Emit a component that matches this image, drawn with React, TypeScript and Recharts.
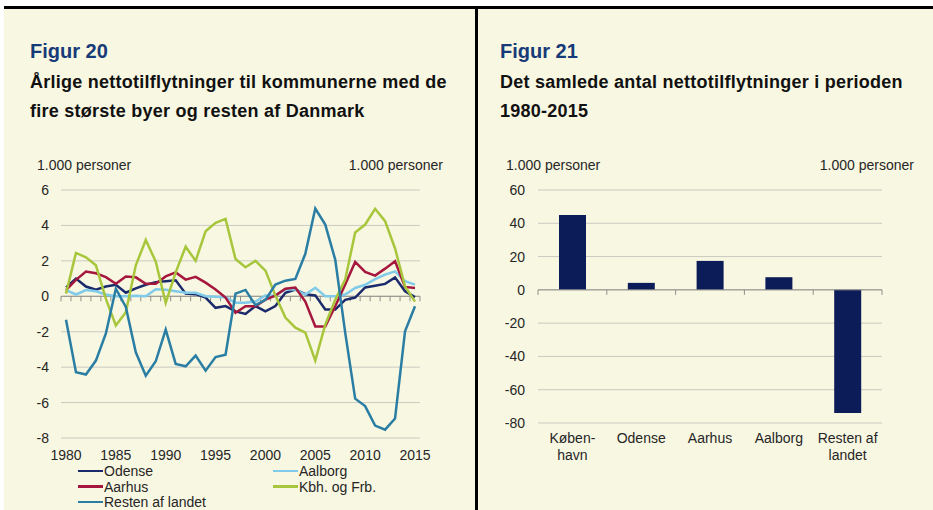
import React from 'react';
import { LineChart, Line, BarChart, Bar, XAxis, YAxis, CartesianGrid, ReferenceLine } from 'recharts';

// Figur 20: yearly net in-migration, 1.000 persons
const years = [
  1980, 1981, 1982, 1983, 1984, 1985, 1986, 1987, 1988, 1989,
  1990, 1991, 1992, 1993, 1994, 1995, 1996, 1997, 1998, 1999,
  2000, 2001, 2002, 2003, 2004, 2005, 2006, 2007, 2008, 2009,
  2010, 2011, 2012, 2013, 2014, 2015,
];
const odense = [
  0.5, 1.0, 0.55, 0.37, 0.55, 0.65, 0.2, 0.45, 0.65, 0.8,
  0.85, 0.9, 0.15, 0.12, -0.07, -0.65, -0.55, -0.85, -1.0, -0.55,
  -0.85, -0.55, 0.2, 0.38, 0.12, 0.05, -0.75, -0.75, -0.2, -0.07,
  0.5, 0.6, 0.7, 1.07, 0.28, -0.05,
];
const aalborg = [
  0.35, 0.1, 0.35, 0.28, 0.1, 0.0, 0.0, 0.03, 0.0, 0.4,
  0.37, 0.28, 0.2, 0.2, 0.0, -0.02, -0.05, -0.37, -0.37, -0.3,
  0.05, 0.05, 0.4, 0.38, 0.1, 0.48, 0.0, 0.0, 0.1, 0.47,
  0.65, 0.97, 1.22, 1.41, 0.85, 0.66,
];
const aarhus = [
  0.35, 0.93, 1.4, 1.3, 1.08, 0.71, 1.12, 1.07, 0.71, 0.71,
  1.12, 1.35, 0.94, 1.1, 0.77, 0.38, -0.07, -0.93, -0.56, -0.56,
  -0.19, 0.04, 0.43, 0.49, -0.3, -1.7, -1.7, -0.56, 0.66, 1.94,
  1.38, 1.17, 1.56, 1.98, 0.53, 0.47,
];
const kbhFrb = [
  0.15, 2.45, 2.2, 1.75, -0.15, -1.65, -0.9, 1.75, 3.18, 1.96,
  -0.37, 1.35, 2.8, 2.0, 3.67, 4.15, 4.37, 2.1, 1.64, 2.0,
  1.45, 0.05, -1.2, -1.77, -2.05, -3.63, -1.6, -0.2, 0.94, 3.6,
  4.05, 4.94, 4.24, 2.7, 0.56, -0.3,
];
const resten = [
  -1.32, -4.29, -4.42, -3.63, -2.1, 0.43, -0.6, -3.16, -4.48, -3.67,
  -1.88, -3.82, -3.95, -3.35, -4.2, -3.43, -3.3, 0.15, 0.36, -0.5,
  -0.2, 0.66, 0.88, 0.98, 2.4, 4.95, 4.05, 2.07, -2.05, -5.78,
  -6.2, -7.3, -7.53, -6.9, -1.98, -0.56,
];
const lineTicks = [-8, -6, -4, -2, 0, 2, 4, 6];

// Figur 21: total net in-migration 1980-2015, 1.000 persons
const barLabels = ['Køben-\nhavn', 'Odense', 'Aarhus', 'Aalborg', 'Resten af\nlandet'];
const barValues = [45, 4.2, 17.4, 7.6, -74];
const barTicks = [-80, -60, -40, -20, 0, 20, 40, 60];

const series = [
  { key: 'odense', name: 'Odense', color: '#1b2a6b', values: odense },
  { key: 'aalborg', name: 'Aalborg', color: '#7fcbe9', values: aalborg },
  { key: 'aarhus', name: 'Aarhus', color: '#a6173e', values: aarhus },
  { key: 'kbhFrb', name: 'Kbh. og Frb.', color: '#a8c63c', values: kbhFrb },
  { key: 'resten', name: 'Resten af landet', color: '#2a7ea4', values: resten },
];

const lineData = years.map((year, i) => {
  const row: any = { year };
  series.forEach(s => { row[s.key] = s.values[i]; });
  return row;
});
const barData = barLabels.map((label, i) => ({ label, value: barValues[i] }));

const FONT = '"Liberation Sans", Arial, sans-serif';
const BG = '#f8f7e2';
const tickStyle = { fill: '#262626', fontSize: 14, fontFamily: FONT };

// zero line with small tick marks at every category boundary
const zeroAxis = (count: number) => (props: any) => {
  const { x1, x2, y1 } = props;
  const step = (x2 - x1) / count;
  const marks = [];
  for (let i = 0; i <= count; i++) {
    const x = x1 + i * step;
    marks.push(<line key={i} x1={x} y1={y1} x2={x} y2={y1 + 5} stroke="#8f8f8a" strokeWidth={1} />);
  }
  return (
    <g>
      <line x1={x1} y1={y1} x2={x2} y2={y1} stroke="#8f8f8a" strokeWidth={1} />
      {marks}
    </g>
  );
};

const CategoryTick = (props: any) => {
  const { x, y, payload } = props;
  const parts = String(payload.value).split('\n');
  return (
    <text x={x} y={y} textAnchor="middle" fill="#262626" fontSize={14} fontFamily={FONT}>
      {parts.map((p, i) => (
        <tspan key={i} x={x} dy={i === 0 ? '0.71em' : 17}>{p}</tspan>
      ))}
    </text>
  );
};

const abs = (left: number, top: number, extra: any = {}) => ({ position: 'absolute' as const, left, top, ...extra });

export default function App() {
  return (
    <div style={abs(0, 0, { width: 933, height: 510, background: '#fff', overflow: 'hidden', fontFamily: FONT })}>
      <div style={abs(4, 9, { width: 929, height: 501, background: BG })} />
      <div style={abs(4, 6, { width: 929, height: 3, background: '#000' })} />
      <div style={abs(475, 6, { width: 3, height: 504, background: '#000' })} />

      {/* titles */}
      <div style={abs(30, 41, { fontSize: 20, lineHeight: '20px', fontWeight: 700, color: '#173a78' })}>Figur 20</div>
      <div style={abs(30, 68, { fontSize: 18, lineHeight: '29px', fontWeight: 700, color: '#111', whiteSpace: 'nowrap', letterSpacing: 0.25 })}>
        Årlige nettotilflytninger til kommunerne med de<br />fire største byer og resten af Danmark
      </div>
      <div style={abs(500, 41, { fontSize: 20, lineHeight: '20px', fontWeight: 700, color: '#173a78' })}>Figur 21</div>
      <div style={abs(500, 68, { fontSize: 18, lineHeight: '29px', fontWeight: 700, color: '#111', whiteSpace: 'nowrap', letterSpacing: 0.25 })}>
        Det samlede antal nettotilflytninger i perioden<br />1980-2015
      </div>

      {/* unit labels */}
      <div style={abs(37, 157, { fontSize: 14, lineHeight: '16px', color: '#262626' })}>1.000 personer</div>
      <div style={abs(343, 157, { width: 100, textAlign: 'right', fontSize: 14, lineHeight: '16px', color: '#262626', whiteSpace: 'nowrap' })}>1.000 personer</div>
      <div style={abs(506, 157, { fontSize: 14, lineHeight: '16px', color: '#262626' })}>1.000 personer</div>
      <div style={abs(814, 157, { width: 100, textAlign: 'right', fontSize: 14, lineHeight: '16px', color: '#262626', whiteSpace: 'nowrap' })}>1.000 personer</div>

      <div style={abs(0, 150)}>
        <LineChart width={476} height={318} data={lineData} margin={{ top: 40, right: 0, bottom: 0, left: 0 }}>
          <CartesianGrid vertical={false} stroke="#cacac2" />
          <XAxis dataKey="year" interval={4} axisLine={false} tickLine={false} tickMargin={6} height={30}
            padding={{ left: 5, right: 5 }} tick={tickStyle} />
          <YAxis domain={[-8, 6]} ticks={lineTicks} width={61} axisLine={false} tickLine={false} tickMargin={6} tick={tickStyle} />
          <YAxis yAxisId="right" orientation="right" domain={[-8, 6]} ticks={lineTicks} width={56}
            axisLine={false} tickLine={false} tickMargin={4} tick={tickStyle} />
          <ReferenceLine y={0} shape={zeroAxis(years.length)} />
          {series.map(s => (
            <Line key={s.key} dataKey={s.key} name={s.name} stroke={s.color} strokeWidth={2.5}
              dot={false} type="linear" isAnimationActive={false} />
          ))}
        </LineChart>
      </div>

      {/* legend */}
      {series.map((s, i) => {
        const col = i === 4 ? 0 : i % 2;
        const row = Math.floor(i / 2);
        const left = col === 0 ? 78 : 273;
        const top = 471 + row * 15.5;
        return (
          <React.Fragment key={s.key}>
            <div style={abs(left, top - 1.25, { width: 25, height: 2.5, background: s.color })} />
            <div style={abs(left + 26, top - 8, { fontSize: 14, lineHeight: '16px', color: '#262626', whiteSpace: 'nowrap' })}>{s.name}</div>
          </React.Fragment>
        );
      })}

      <div style={abs(476, 150)}>
        <BarChart width={457} height={320} data={barData} margin={{ top: 40, right: 0, bottom: 0, left: 0 }}>
          <CartesianGrid vertical={false} stroke="#cacac2" />
          <XAxis dataKey="label" axisLine={false} tickLine={false} tickMargin={4} height={47} tick={<CategoryTick />} interval={0} />
          <YAxis domain={[-80, 60]} ticks={barTicks} width={62} axisLine={false} tickLine={false} tickMargin={7} tick={tickStyle} />
          <YAxis yAxisId="right" orientation="right" domain={[-80, 60]} ticks={barTicks} width={51}
            axisLine={false} tickLine={false} tickMargin={6} tick={tickStyle} />
          <Bar dataKey="value" fill="#0b1c58" barSize={27} isAnimationActive={false} />
          <ReferenceLine y={0} shape={zeroAxis(barLabels.length)} />
        </BarChart>
      </div>
    </div>
  );
}
